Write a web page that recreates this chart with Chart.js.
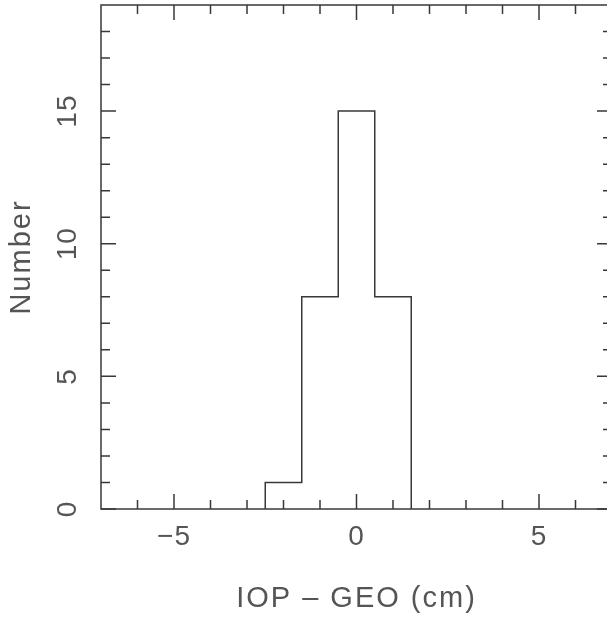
<!DOCTYPE html>
<html>
<head>
<meta charset="utf-8">
<script src="https://cdn.jsdelivr.net/npm/chart.js@4"></script>
<style>
  html, body { margin: 0; padding: 0; background: #fff; overflow: hidden; }
  #box { position: absolute; left: 0; top: 0; width: 614px; height: 619px; }
</style>
</head>
<body>
<div id="box"><canvas id="histChart" width="614" height="619"></canvas></div>
<script>
// histogram bins (cm) and counts
var binEdges = [-2.5, -1.5, -0.5, 0.5, 1.5];
var counts = [1, 8, 15, 8];

// axis ranges and ticks
var xRange = [-7, 7];
var yRange = [0, 19];
var xMajorTicks = [-5, 0, 5];
var xTickLabels = ["\u22125", "0", "5"];
var yMajorTicks = [0, 5, 10, 15];
var yTickLabels = ["0", "5", "10", "15"];
var xMinorTicks = [-6, -4, -3, -2, -1, 1, 2, 3, 4, 6];
var yMinorTicks = [1, 2, 3, 4, 6, 7, 8, 9, 11, 12, 13, 14, 16, 17, 18];

var xTitle = "IOP \u2013 GEO (cm)";
var yTitle = "Number";

// outline of the histogram as a stepped line
var outline = [{x: binEdges[0], y: 0}];
for (var i = 0; i < counts.length; i++)
{
    outline.push({x: binEdges[i], y: counts[i]});
}
outline.push({x: binEdges[binEdges.length - 1], y: 0});

var ink = "#383838";
var textInk = "#555555";
var fontFamily = "'Liberation Sans', Arial, sans-serif";

var framePlugin = {
    id: "frame",
    afterDraw: function (chart) {
        var ctx = chart.ctx;
        var xs = chart.scales.x;
        var ys = chart.scales.y;
        var a = chart.chartArea;
        var major = 15, minor = 9;

        ctx.save();
        ctx.strokeStyle = ink;
        ctx.lineWidth = 1.5;
        ctx.strokeRect(a.left, a.top, a.right - a.left, a.bottom - a.top);

        ctx.beginPath();
        xMajorTicks.concat(xMinorTicks).forEach(function (v) {
            var len = xMajorTicks.indexOf(v) >= 0 ? major : minor;
            var px = xs.getPixelForValue(v);
            ctx.moveTo(px, a.bottom); ctx.lineTo(px, a.bottom - len);
            ctx.moveTo(px, a.top); ctx.lineTo(px, a.top + len);
        });
        yMajorTicks.concat(yMinorTicks).forEach(function (v) {
            var len = yMajorTicks.indexOf(v) >= 0 ? major : minor;
            var py = ys.getPixelForValue(v);
            ctx.moveTo(a.left, py); ctx.lineTo(a.left + len, py);
            ctx.moveTo(a.right, py); ctx.lineTo(a.right - len, py);
        });
        ctx.stroke();

        ctx.fillStyle = textInk;
        ctx.textAlign = "center";
        ctx.textBaseline = "middle";
        ctx.font = "28px " + fontFamily;
        ctx.letterSpacing = "1px";
        xMajorTicks.forEach(function (v, k) {
            ctx.fillText(xTickLabels[k], xs.getPixelForValue(v), a.bottom + 28);
        });
        yMajorTicks.forEach(function (v, k) {
            ctx.save();
            ctx.translate(a.left - 33, ys.getPixelForValue(v));
            ctx.rotate(-Math.PI / 2);
            ctx.fillText(yTickLabels[k], 0, 0);
            ctx.restore();
        });

        ctx.font = "29px " + fontFamily;
        ctx.letterSpacing = "2px";
        ctx.fillText(xTitle, (a.left + a.right) / 2, a.bottom + 90);
        ctx.save();
        ctx.translate(22, (a.top + a.bottom) / 2);
        ctx.rotate(-Math.PI / 2);
        ctx.fillText(yTitle, 0, 0);
        ctx.restore();
        ctx.restore();
    }
};

var histChart = new Chart(document.getElementById("histChart"), {
    type: "line",
    data: {
        datasets: [{
            label: "IOP - GEO",
            data: outline,
            stepped: "before",
            borderColor: ink,
            borderWidth: 1.5,
            pointRadius: 0,
            fill: false
        }]
    },
    options: {
        responsive: false,
        animation: false,
        layout: {
            padding: {left: 101, top: 5, right: 2, bottom: 110}
        },
        scales: {
            x: { type: "linear", min: xRange[0], max: xRange[1], display: false },
            y: { type: "linear", min: yRange[0], max: yRange[1], display: false }
        },
        plugins: {
            legend: { display: false },
            tooltip: { enabled: false }
        }
    },
    plugins: [framePlugin]
});
</script>
</body>
</html>
